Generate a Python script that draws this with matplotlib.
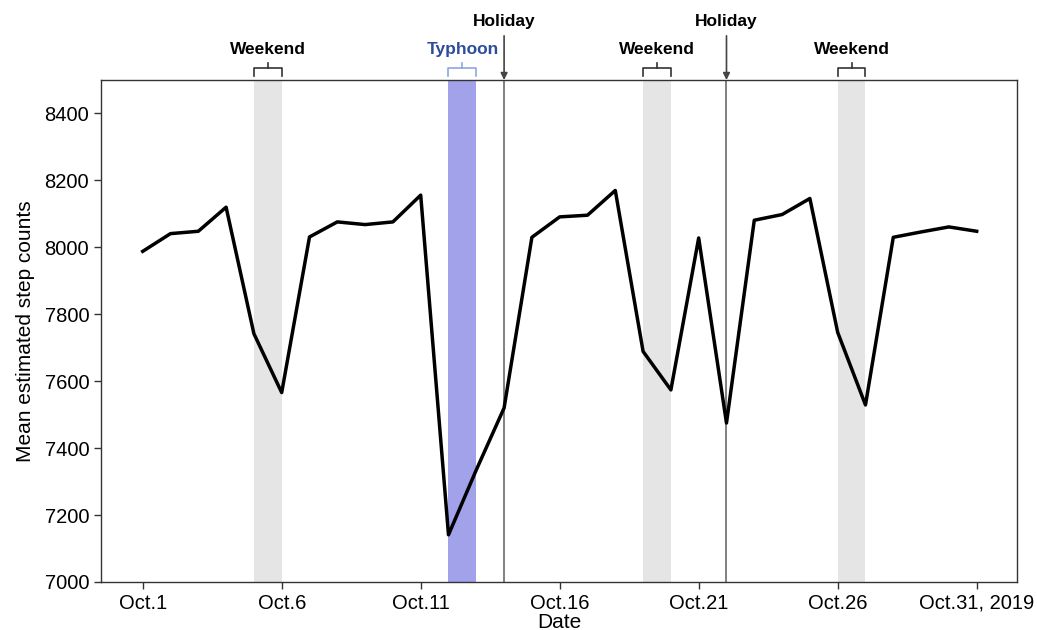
import numpy as np
import matplotlib
matplotlib.use("Agg")
import matplotlib.pyplot as plt
import matplotlib.transforms as mtransforms

plt.rcParams['font.family'] = ['Liberation Sans', 'DejaVu Sans']

days = list(range(1, 32))
steps = [7988, 8041, 8048, 8120, 7742, 7566, 8031, 8076, 8068, 8076,
         8156, 7141, 7335, 7520, 8030, 8091, 8096, 8170, 7689, 7574,
         8028, 7475, 8081, 8098, 8146, 7746, 7529, 8030, 8046, 8061, 8048]

weekends = [(5, 6), (19, 20), (26, 27)]
typhoon = (12, 13)
holidays = [14, 22]

tick_days = [1, 6, 11, 16, 21, 26, 31]
tick_labels = ['Oct.1', 'Oct.6', 'Oct.11', 'Oct.16', 'Oct.21', 'Oct.26', 'Oct.31, 2019']

fig = plt.figure(figsize=(10.37, 6.3), dpi=100)
ax = fig.add_axes([0.0974, 0.0762, 0.8833, 0.7968])

trans = mtransforms.blended_transform_factory(ax.transData, ax.transAxes)


def bracket(x0, x1, color, label, text_color):
    xm = (x0 + x1) / 2
    ax.plot([x0, x0, x1, x1], [1.008, 1.024, 1.024, 1.008], color=color,
            lw=1.2, transform=trans, clip_on=False)
    ax.plot([xm, xm], [1.024, 1.034], color=color, lw=1.2,
            transform=trans, clip_on=False)
    ax.text(xm, 1.06, label, transform=trans, ha='center', va='center',
            fontsize=12.5, fontweight='bold', color=text_color)


for x0, x1 in weekends:
    ax.axvspan(x0, x1, color='#e5e5e5', lw=0, zorder=0)
    bracket(x0, x1, '#333333', 'Weekend', 'black')

ax.axvspan(typhoon[0], typhoon[1], color='#a2a2ea', lw=0, zorder=0)
bracket(typhoon[0], typhoon[1], '#8ea6e0', 'Typhoon', '#2e4c9c')

for h in holidays:
    ax.axvline(h, color='#808080', lw=1.4, zorder=1)
    ax.annotate('', xy=(h, 1.0), xycoords=trans, xytext=(h, 1.088),
                textcoords=trans,
                arrowprops=dict(arrowstyle='-|>', color='#444444', lw=1.2,
                                mutation_scale=10, shrinkA=0, shrinkB=0))
    ax.text(h, 1.116, 'Holiday', transform=trans, ha='center', va='center',
            fontsize=12.5, fontweight='bold', color='black')

ax.plot(days, steps, color='black', lw=2.5, zorder=3)

ax.set_xlim(-0.5, 32.45)
ax.set_ylim(7000, 8500)
ax.set_yticks(np.arange(7000, 8401, 200))
ax.set_xticks(tick_days)
ax.set_xticklabels(tick_labels)
ax.tick_params(axis='both', labelsize=14.5, length=5, width=1, color='#333333')

for s in ax.spines.values():
    s.set_color('#333333')
    s.set_linewidth(1)

ax.set_xlabel('Date', fontsize=15, labelpad=0)
ax.set_ylabel('Mean estimated step counts', fontsize=15, labelpad=7)

fig.savefig('out.png', dpi=100)
